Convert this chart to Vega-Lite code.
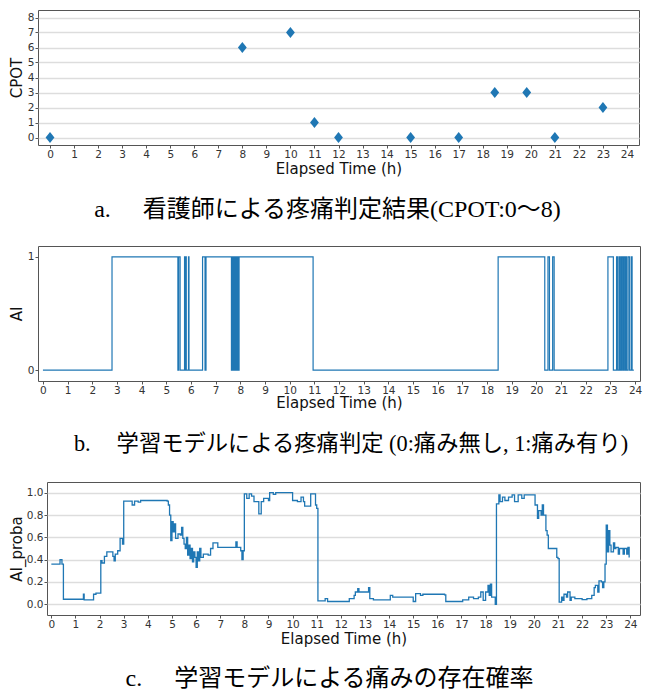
{
  "$schema": "https://vega.github.io/schema/vega-lite/v6.json",
  "padding": {"left": 8, "top": 9, "right": 5, "bottom": 0},
  "background": "white",
  "datasets": {
    "cpot": [
      {"t": 0, "cpot": 0}, {"t": 8, "cpot": 6}, {"t": 10, "cpot": 7}, {"t": 11, "cpot": 1},
      {"t": 12, "cpot": 0}, {"t": 15, "cpot": 0}, {"t": 17, "cpot": 0}, {"t": 18.5, "cpot": 3},
      {"t": 19.83, "cpot": 3}, {"t": 21, "cpot": 0}, {"t": 23, "cpot": 2}
    ],
    "ai": [
      {"t": 0, "v": 0}, {"t": 2.8, "v": 1}, {"t": 5.47, "v": 0}, {"t": 5.5, "v": 1}, {"t": 5.56, "v": 0},
      {"t": 5.74, "v": 1}, {"t": 5.76, "v": 0}, {"t": 5.79, "v": 1}, {"t": 5.81, "v": 0}, {"t": 5.9, "v": 1},
      {"t": 5.92, "v": 0}, {"t": 6.47, "v": 1}, {"t": 6.57, "v": 0}, {"t": 6.61, "v": 1}, {"t": 7.64, "v": 0},
      {"t": 7.66, "v": 1}, {"t": 7.68, "v": 0}, {"t": 7.71, "v": 1}, {"t": 7.73, "v": 0}, {"t": 7.76, "v": 1},
      {"t": 7.78, "v": 0}, {"t": 7.81, "v": 1}, {"t": 7.83, "v": 0}, {"t": 7.86, "v": 1}, {"t": 7.88, "v": 0},
      {"t": 7.91, "v": 1}, {"t": 7.93, "v": 0}, {"t": 7.95, "v": 1}, {"t": 10.95, "v": 0}, {"t": 18.45, "v": 1},
      {"t": 20.34, "v": 0}, {"t": 20.47, "v": 1}, {"t": 20.53, "v": 0}, {"t": 20.66, "v": 1}, {"t": 20.72, "v": 0},
      {"t": 22.9, "v": 1}, {"t": 23.12, "v": 0}, {"t": 23.25, "v": 1}, {"t": 23.3, "v": 0}, {"t": 23.36, "v": 1},
      {"t": 23.4, "v": 0}, {"t": 23.45, "v": 1}, {"t": 23.5, "v": 0}, {"t": 23.53, "v": 1}, {"t": 23.58, "v": 0},
      {"t": 23.62, "v": 1}, {"t": 23.66, "v": 0}, {"t": 23.72, "v": 1}, {"t": 23.78, "v": 0}, {"t": 23.85, "v": 1},
      {"t": 23.88, "v": 0}, {"t": 23.95, "v": 0}
    ],
    "proba": [
      {"t": 0, "p": 0.36}, {"t": 0.36, "p": 0.4}, {"t": 0.44, "p": 0.36}, {"t": 0.5, "p": 0.045},
      {"t": 1.33, "p": 0.09}, {"t": 1.36, "p": 0.04}, {"t": 1.75, "p": 0.09}, {"t": 1.85, "p": 0.1},
      {"t": 2.05, "p": 0.39}, {"t": 2.1, "p": 0.37}, {"t": 2.2, "p": 0.43}, {"t": 2.3, "p": 0.47},
      {"t": 2.55, "p": 0.43}, {"t": 2.6, "p": 0.39}, {"t": 2.65, "p": 0.45}, {"t": 2.75, "p": 0.48},
      {"t": 2.85, "p": 0.59}, {"t": 2.95, "p": 0.54}, {"t": 3.0, "p": 0.925}, {"t": 3.35, "p": 0.89},
      {"t": 3.45, "p": 0.925}, {"t": 3.6, "p": 0.915}, {"t": 3.7, "p": 0.93}, {"t": 4.8, "p": 0.925},
      {"t": 4.85, "p": 0.89}, {"t": 4.9, "p": 0.8}, {"t": 4.95, "p": 0.57}, {"t": 5.0, "p": 0.74},
      {"t": 5.05, "p": 0.65}, {"t": 5.1, "p": 0.72}, {"t": 5.15, "p": 0.59}, {"t": 5.25, "p": 0.63},
      {"t": 5.35, "p": 0.62}, {"t": 5.4, "p": 0.69}, {"t": 5.45, "p": 0.59}, {"t": 5.5, "p": 0.54},
      {"t": 5.55, "p": 0.5}, {"t": 5.6, "p": 0.6}, {"t": 5.65, "p": 0.44}, {"t": 5.7, "p": 0.53},
      {"t": 5.75, "p": 0.41}, {"t": 5.8, "p": 0.5}, {"t": 5.85, "p": 0.38}, {"t": 5.9, "p": 0.47},
      {"t": 5.95, "p": 0.42}, {"t": 6.0, "p": 0.33}, {"t": 6.05, "p": 0.47}, {"t": 6.1, "p": 0.39},
      {"t": 6.15, "p": 0.5}, {"t": 6.2, "p": 0.42}, {"t": 6.3, "p": 0.45}, {"t": 6.5, "p": 0.44},
      {"t": 6.6, "p": 0.5}, {"t": 6.7, "p": 0.55}, {"t": 6.9, "p": 0.51}, {"t": 7.65, "p": 0.56},
      {"t": 7.7, "p": 0.51}, {"t": 7.85, "p": 0.48}, {"t": 7.9, "p": 0.4}, {"t": 7.95, "p": 0.48},
      {"t": 8.0, "p": 0.99}, {"t": 8.1, "p": 0.95}, {"t": 8.2, "p": 0.99}, {"t": 8.3, "p": 0.97},
      {"t": 8.4, "p": 0.92}, {"t": 8.6, "p": 0.81}, {"t": 8.7, "p": 0.92}, {"t": 8.8, "p": 0.95},
      {"t": 9.0, "p": 0.93}, {"t": 9.05, "p": 1.0}, {"t": 9.2, "p": 0.985}, {"t": 9.3, "p": 1.0},
      {"t": 10.0, "p": 0.93}, {"t": 10.2, "p": 0.92}, {"t": 10.35, "p": 0.96}, {"t": 10.45, "p": 0.92},
      {"t": 10.5, "p": 0.88}, {"t": 10.75, "p": 0.99}, {"t": 10.95, "p": 0.89}, {"t": 11.0, "p": 0.86},
      {"t": 11.05, "p": 0.03}, {"t": 11.35, "p": 0.05}, {"t": 11.45, "p": 0.025}, {"t": 12.35, "p": 0.05},
      {"t": 12.55, "p": 0.08}, {"t": 12.6, "p": 0.11}, {"t": 12.7, "p": 0.14}, {"t": 12.75, "p": 0.11},
      {"t": 13.15, "p": 0.15}, {"t": 13.2, "p": 0.05}, {"t": 13.35, "p": 0.04}, {"t": 14.05, "p": 0.08},
      {"t": 14.15, "p": 0.065}, {"t": 15.0, "p": 0.025}, {"t": 15.1, "p": 0.095}, {"t": 15.3, "p": 0.08},
      {"t": 15.4, "p": 0.09}, {"t": 16.3, "p": 0.085}, {"t": 16.35, "p": 0.025}, {"t": 17.05, "p": 0.04},
      {"t": 17.3, "p": 0.065}, {"t": 17.5, "p": 0.05}, {"t": 17.7, "p": 0.065}, {"t": 17.8, "p": 0.11},
      {"t": 17.9, "p": 0.035}, {"t": 18.0, "p": 0.11}, {"t": 18.1, "p": 0.17}, {"t": 18.15, "p": 0.08},
      {"t": 18.2, "p": 0.18}, {"t": 18.25, "p": 0.065}, {"t": 18.4, "p": 0.0}, {"t": 18.45, "p": 0.9},
      {"t": 18.55, "p": 0.98}, {"t": 18.6, "p": 0.92}, {"t": 18.7, "p": 0.96}, {"t": 18.8, "p": 0.93},
      {"t": 18.95, "p": 0.96}, {"t": 19.1, "p": 0.98}, {"t": 19.2, "p": 0.92}, {"t": 19.35, "p": 0.98},
      {"t": 19.5, "p": 0.95}, {"t": 19.6, "p": 0.98}, {"t": 20.05, "p": 0.89}, {"t": 20.15, "p": 0.77},
      {"t": 20.2, "p": 0.84}, {"t": 20.3, "p": 0.8}, {"t": 20.35, "p": 0.89}, {"t": 20.4, "p": 0.8},
      {"t": 20.5, "p": 0.66}, {"t": 20.55, "p": 0.62}, {"t": 20.6, "p": 0.5}, {"t": 20.95, "p": 0.42},
      {"t": 21.0, "p": 0.41}, {"t": 21.05, "p": 0.02}, {"t": 21.15, "p": 0.065}, {"t": 21.2, "p": 0.035},
      {"t": 21.25, "p": 0.09}, {"t": 21.35, "p": 0.065}, {"t": 21.4, "p": 0.11}, {"t": 21.5, "p": 0.035},
      {"t": 21.55, "p": 0.065}, {"t": 21.7, "p": 0.05}, {"t": 22.0, "p": 0.042}, {"t": 22.2, "p": 0.05},
      {"t": 22.4, "p": 0.08}, {"t": 22.5, "p": 0.15}, {"t": 22.55, "p": 0.17}, {"t": 22.65, "p": 0.11},
      {"t": 22.7, "p": 0.21}, {"t": 22.8, "p": 0.2}, {"t": 22.85, "p": 0.15}, {"t": 22.9, "p": 0.2},
      {"t": 22.95, "p": 0.36}, {"t": 23.0, "p": 0.71}, {"t": 23.05, "p": 0.47}, {"t": 23.1, "p": 0.66},
      {"t": 23.15, "p": 0.53}, {"t": 23.2, "p": 0.47}, {"t": 23.3, "p": 0.55}, {"t": 23.35, "p": 0.5},
      {"t": 23.4, "p": 0.51}, {"t": 23.5, "p": 0.45}, {"t": 23.55, "p": 0.5}, {"t": 23.7, "p": 0.45},
      {"t": 23.75, "p": 0.5}, {"t": 23.85, "p": 0.45}, {"t": 23.9, "p": 0.51}, {"t": 23.95, "p": 0.42}
    ]
  },
  "vconcat": [
    {
      "width": 601, "height": 135,
      "title": {"text": "a.\u2003\u2004看護師による疼痛判定結果(CPOT:0～8)", "dx": -11, "offset": 21, "fontSize": 24},
      "data": {"name": "cpot"},
      "mark": {"type": "point", "shape": "M-0.8,0L0,-1L0.8,0L0,1Z", "filled": true, "color": "#1f77b4", "size": 121, "opacity": 1},
      "encoding": {
        "x": {"field": "t", "type": "quantitative", "title": "Elapsed Time (h)",
              "scale": {"domain": [-0.5, 24.5], "nice": false, "zero": false},
              "axis": {"values": [0,1,2,3,4,5,6,7,8,9,10,11,12,13,14,15,16,17,18,19,20,21,22,23,24], "grid": false}},
        "y": {"field": "cpot", "type": "quantitative", "title": "CPOT",
              "scale": {"domain": [-0.5, 8.5], "nice": false, "zero": false},
              "axis": {"values": [0,1,2,3,4,5,6,7,8], "grid": true, "minExtent": 11, "maxExtent": 11}}
      }
    },
    {
      "width": 602, "height": 135,
      "title": {"text": "b.\u2003\u2006学習モデルによる疼痛判定 (0:痛み無し, 1:痛み有り)", "dx": 12, "offset": 22, "fontSize": 22.3},
      "data": {"name": "ai"},
      "mark": {"type": "line", "interpolate": "step-after", "color": "#1f77b4", "strokeWidth": 1.2},
      "encoding": {
        "x": {"field": "t", "type": "quantitative", "title": "Elapsed Time (h)",
              "scale": {"domain": [-0.2, 24.2], "nice": false, "zero": false},
              "axis": {"values": [0,1,2,3,4,5,6,7,8,9,10,11,12,13,14,15,16,17,18,19,20,21,22,23,24], "grid": false, "titlePadding": 0}},
        "y": {"field": "v", "type": "quantitative", "title": "AI",
              "scale": {"domain": [-0.095, 1.095], "nice": false, "zero": false},
              "axis": {"values": [0, 1], "format": "d", "grid": false, "minExtent": 11, "maxExtent": 11}}
      }
    },
    {
      "hconcat": [
        {
          "width": 1, "height": 133,
          "view": {"stroke": null},
          "data": {"values": []},
          "mark": "point"
        },
        {
          "width": 593, "height": 133,
          "title": {"text": "c.\u2003\u2004学習モデルによる痛みの存在確率", "dx": -14, "offset": 20, "fontSize": 24},
          "data": {"name": "proba"},
          "mark": {"type": "line", "interpolate": "step-after", "color": "#1f77b4", "strokeWidth": 1.3},
          "encoding": {
            "x": {"field": "t", "type": "quantitative", "title": "Elapsed Time (h)",
                  "scale": {"domain": [-0.18, 24.4], "nice": false, "zero": false},
                  "axis": {"values": [0,1,2,3,4,5,6,7,8,9,10,11,12,13,14,15,16,17,18,19,20,21,22,23,24], "grid": false}},
            "y": {"field": "p", "type": "quantitative", "title": "AI_proba",
                  "scale": {"domain": [-0.096, 1.096], "nice": false, "zero": false},
                  "axis": {"values": [0, 0.2, 0.4, 0.6, 0.8, 1.0], "format": ".1f", "grid": true, "minExtent": 20, "maxExtent": 20}}
          }
        }
      ],
      "spacing": 8,
      "bounds": "flush"
    }
  ],
  "bounds": "flush",
  "spacing": 101,
  "config": {
    "view": {"stroke": "#555", "strokeWidth": 1},
    "axis": {
      "domain": false,
      "labelFont": "DejaVu Sans", "labelFontSize": 10.5, "labelColor": "#333",
      "titleFont": "DejaVu Sans", "titleFontWeight": "normal", "titleFontSize": 15, "titleColor": "#111",
      "tickColor": "#555", "tickSize": 3, "labelPadding": 1,
      "gridColor": "#dddddd", "gridWidth": 1.5
    },
    "axisX": {"titlePadding": 2},
    "axisY": {"titlePadding": 3},
    "title": {"font": "Liberation Serif, Noto Sans CJK JP", "fontSize": 24, "fontWeight": "normal", "color": "#000", "orient": "bottom", "anchor": "middle"}
  }
}
